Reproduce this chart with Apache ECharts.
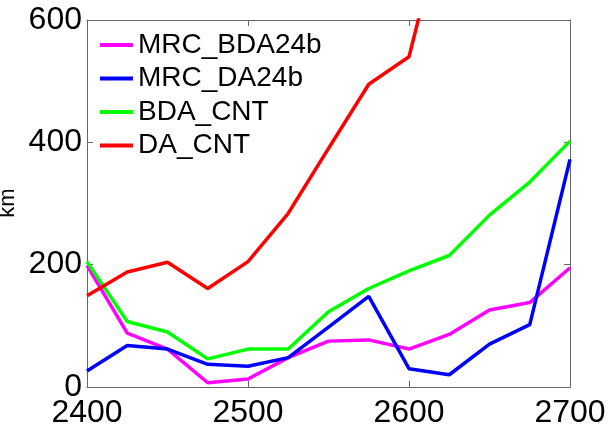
<!DOCTYPE html>
<html>
<head>
<meta charset="utf-8">
<script src="https://cdn.jsdelivr.net/npm/echarts@6/dist/echarts.min.js"></script>
<style>
  html, body { margin: 0; padding: 0; background: #fff; }
  #chart { width: 610px; height: 430px; }
</style>
</head>
<body>
<div id="chart"></div>
<script>
// Track error (km) against position along the track
const positions = [2400, 2425, 2450, 2475, 2500, 2525, 2550, 2575, 2600, 2625, 2650, 2675, 2700];

const mrcBda24b = [199, 88, 62, 7, 13, 48, 75, 77, 62, 86, 126, 138, 195];
const mrcDa24b  = [26, 68, 62, 37, 34, 48, 98, 148, 30, 20, 70, 102, 372];
const bdaCnt    = [205, 107, 90, 46, 62, 62, 123, 161, 190, 215, 281, 335, 402];
const daCnt     = [149, 188, 204, 161, 205, 284, 390, 495, 540, 800, 980, 1150, 1300];

const seriesNames  = ['MRC_BDA24b', 'MRC_DA24b', 'BDA_CNT', 'DA_CNT'];
const seriesValues = [mrcBda24b, mrcDa24b, bdaCnt, daCnt];
const seriesColors = ['#ff00ff', '#0000ff', '#00ff00', '#ff0000'];

const xTicks = { min: 2400, max: 2700, interval: 100 };
const yTicks = { min: 0, max: 600, interval: 200 };

const FONT = 'Liberation Sans, Arial, Helvetica, sans-serif';
const AXIS_COLOR = '#666666';

const chart = echarts.init(document.getElementById('chart'), null, { renderer: 'canvas' });

function boxAxis(extra) {
  return Object.assign({
    type: 'value',
    axisLine: { show: true, onZero: false, lineStyle: { color: AXIS_COLOR, width: 1 } },
    axisTick: { show: true, inside: true, length: 6, lineStyle: { color: AXIS_COLOR } },
    splitLine: { show: false }
  }, extra);
}

// Plain integer tick text (no thousands separator)
const plain = v => String(v);

chart.setOption({
  animation: false,
  backgroundColor: '#ffffff',
  grid: { left: 87, right: 40, top: 20, bottom: 43, containLabel: false },
  legend: {
    left: 100,
    top: 31,
    orient: 'vertical',
    padding: 0,
    itemGap: 5.5,
    itemWidth: 33,
    itemHeight: 4,
    icon: 'rect',
    textStyle: { fontFamily: FONT, fontSize: 28, color: '#000', lineHeight: 28 },
    data: seriesNames
  },
  xAxis: [
    boxAxis(Object.assign({}, xTicks, {
      position: 'bottom',
      axisLabel: { show: true, color: '#000', fontFamily: FONT, fontSize: 32, margin: 10, formatter: plain }
    })),
    boxAxis(Object.assign({}, xTicks, {
      position: 'top',
      axisLabel: { show: false }
    }))
  ],
  yAxis: [
    boxAxis(Object.assign({}, yTicks, {
      position: 'left',
      axisLabel: { show: true, color: '#000', fontFamily: FONT, fontSize: 32, margin: 5, formatter: plain }
    })),
    boxAxis(Object.assign({}, yTicks, {
      position: 'right',
      axisLabel: { show: false }
    }))
  ],
  graphic: [{
    type: 'text',
    x: 8,
    y: 203,
    rotation: Math.PI / 2,
    style: {
      text: 'km',
      fontFamily: FONT,
      fontSize: 22,
      fill: '#000',
      align: 'center',
      verticalAlign: 'middle'
    }
  }],
  series: seriesNames.map((name, i) => ({
    name: name,
    type: 'line',
    xAxisIndex: 0,
    yAxisIndex: 0,
    clip: true,
    symbol: 'none',
    color: seriesColors[i],
    lineStyle: { color: seriesColors[i], width: 3.5 },
    data: positions.map((p, j) => [p, seriesValues[i][j]])
  }))
});
</script>
</body>
</html>
